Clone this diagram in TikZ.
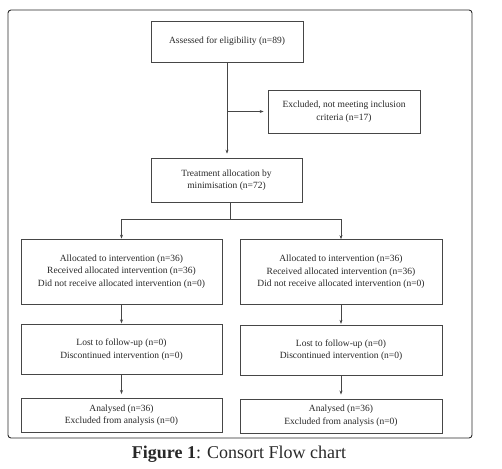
\documentclass[tikz,border=0pt]{standalone}
\usepackage{fontspec}
\setmainfont{Liberation Serif}
\usepackage{tikz}
\usetikzlibrary{arrows.meta, positioning, calc}
\definecolor{mydark}{RGB}{40,40,40}
\definecolor{myline}{RGB}{70,70,70}
\tikzset{
  box/.style={rectangle, draw=myline, fill=white, align=center,
    font=\fontsize{9.5}{12.5}\selectfont, text=mydark, inner sep=2pt, line width=0.7pt},
  arrow/.style={-{Stealth[length=4pt, width=3pt]}, line width=0.6pt, color=myline},
  line/.style={line width=0.6pt, color=myline},
  frame/.style={draw=mydark, line width=0.9pt, rounded corners=3pt}
}

\begin{document}
\begin{tikzpicture}[x=1pt, y=-1pt]
  \useasboundingbox (0,0) rectangle (502,468);
  \draw[frame] (8,10) rectangle (472,438);

  % Nodes
  \node[box, minimum width=152pt, minimum height=41pt] (assess) at (227,41.5) {Assessed for eligibility (n=89)};
  \node[box, minimum width=152pt, minimum height=43pt] (excl) at (344,111.5) {Excluded, not meeting inclusion\\criteria (n=17)};
  \node[box, minimum width=151pt, minimum height=44pt] (alloc) at (226.5,180) {Treatment allocation by\\minimisation (n=72)};

  \node[box, minimum width=201pt, minimum height=65pt] (recl) at (121.5,271.5) {Allocated to intervention (n=36)\\Received allocated intervention (n=36)\\Did not receive allocated intervention (n=0)};
  \node[box, minimum width=202pt, minimum height=65pt] (recr) at (341,272) {Allocated to intervention (n=36)\\Received allocated intervention (n=36)\\Did not receive allocated intervention (n=0)};

  \node[box, minimum width=201pt, minimum height=50pt, below=20pt of recl] (lostl) {Lost to follow-up (n=0)\\Discontinued intervention (n=0)};
  \node[box, minimum width=202pt, minimum height=50pt, below=20pt of recr] (lostr) {Lost to follow-up (n=0)\\Discontinued intervention (n=0)};

  \node[box, minimum width=201pt, minimum height=34pt, below=23pt of lostl] (anal) {Analysed (n=36)\\Excluded from analysis (n=0)};
  \node[box, minimum width=202pt, minimum height=34pt, below=23pt of lostr] (anar) {Analysed (n=36)\\Excluded from analysis (n=0)};

  \node[font=\fontsize{18}{21}\selectfont, text=mydark] (caption) at (239,454) {\textbf{Figure 1}: Consort Flow chart};

  % Connections
  \coordinate (branch) at (assess.south |- excl.west);
  \draw[arrow, shorten >=4pt] (assess.south) -- (assess.south |- alloc.north);
  \draw[arrow, shorten >=4pt] (branch) -- (excl.west);
  \coordinate (split) at ($(alloc.south)+(3.5,17)$);
  \draw[line] ($(alloc.south)+(3.5,0)$) -- (split);
  \draw[arrow] (split) -| (recl.north);
  \draw[arrow] (split) -| (recr.north);
  \draw[arrow, shorten >=1pt] (recl) -- (lostl);
  \draw[arrow, shorten >=1pt] (recr) -- (lostr);
  \draw[arrow, shorten >=4pt] (lostl) -- (anal);
  \draw[arrow, shorten >=4pt] (lostr) -- (anar);

\end{tikzpicture}
\end{document}
